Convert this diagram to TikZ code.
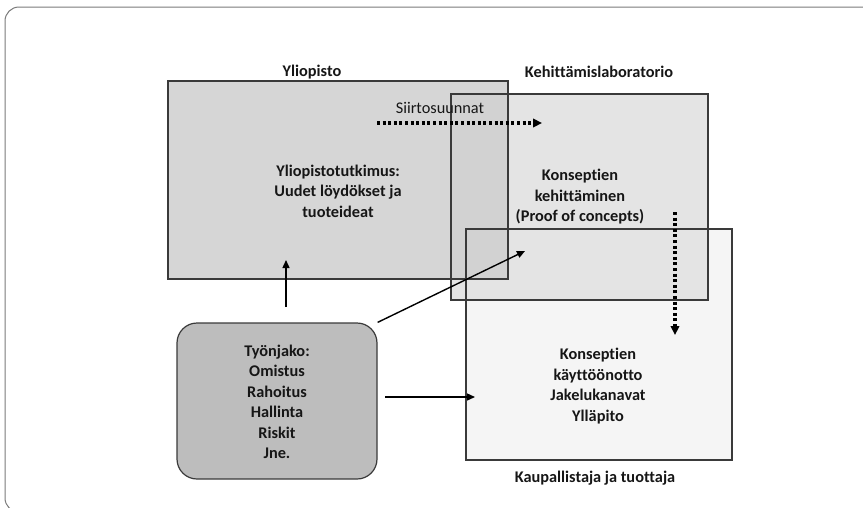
\documentclass[tikz,border=0pt]{standalone}
\usepackage{fontspec}
\setmainfont{Carlito}[Ligatures=NoCommon]
\usetikzlibrary{arrows.meta}

\definecolor{ink}{HTML}{161616}
\definecolor{edge}{HTML}{3A3A3A}
\definecolor{framegray}{HTML}{7A7A7A}
\definecolor{univfill}{HTML}{CFCFCF}
\definecolor{labfill}{HTML}{E4E4E4}
\definecolor{comfill}{HTML}{F5F5F5}
\definecolor{workfill}{HTML}{BDBDBD}

\tikzset{
  txt/.style={text=ink, align=center, inner sep=0pt,
    font=\fontsize{16.3}{20.5}\selectfont},
  heading/.style={txt, font=\fontsize{16.3}{20.5}\selectfont\bfseries},
  areafill/.style={rectangle, draw=none, inner sep=0pt, outer sep=0pt},
  areaedge/.style={draw=edge, line width=1.2pt},
  solidarrow/.style={draw=black, line width=1.4pt,
    -{Triangle[length=8pt,width=7pt]}},
  dotarrow/.style={draw=black, line width=3.2pt,
    dash pattern=on 3pt off 2.6pt,
    -{Triangle[length=9pt,width=8.5pt]}},
}

\begin{document}
\begin{tikzpicture}[x=1pt,y=-1pt]
\useasboundingbox (0,0) rectangle (863,507);

% outer rounded frame, running off the right and bottom edges
\begin{scope}
  \clip (0,0) rectangle (863,507);
  \draw[framegray, line width=1pt, rounded corners=14pt] (5,7) rectangle (900,512);
\end{scope}

% area fills, lightest first
\node[areafill, fill=comfill, minimum width=266pt, minimum height=231pt] (ka) at (599,344.5) {};
\node[areafill, fill=labfill, minimum width=257pt, minimum height=206pt] (ke) at (579.5,197) {};
\node[areafill, fill=univfill, fill opacity=0.85, minimum width=340pt, minimum height=198pt] (yl) at (338,180) {};

% area outlines on top of all fills
\draw[areaedge] (ka.north west) rectangle (ka.south east);
\draw[areaedge] (ke.north west) rectangle (ke.south east);
\draw[areaedge] (yl.north west) rectangle (yl.south east);

% division of work
\node[rectangle, rounded corners=20pt, draw=edge, line width=1.2pt, fill=workfill,
      minimum width=200pt, minimum height=156pt, inner sep=0pt] (ty) at (277,401) {};

% headings
\node[heading] (hyl) at (312,72) {Yliopisto};
\node[heading] (hke) at (599,72) {Kehittämislaboratorio};
\node[heading] (hka) at (595,478) {Kaupallistaja ja tuottaja};

% area contents
\node[heading] (tyl) at (338,191) {Yliopistotutkimus:\\Uudet löydökset ja\\tuoteideat};
\node[heading] (tke) at (580,197) {Konseptien\\kehittäminen\\(Proof of concepts)};
\node[heading] (tka) at (598,386) {Konseptien\\käyttöönotto\\Jakelukanavat\\Ylläpito};
\node[heading] (tty) at (277,402) {Työnjako:\\Omistus\\Rahoitus\\Hallinta\\Riskit\\Jne.};
\node[txt] (siirto) at (440,108) {Siirtosuunnat};

% connector end points
\coordinate (upfrom) at (286,307);
\coordinate (uptip) at (286,260);
\coordinate (diagtip) at (525,251);
\coordinate (rightfrom) at (385,397);
\coordinate (righttip) at (475,397);
\coordinate (dotfrom) at (377,123);
\coordinate (dottip) at (542,123);
\coordinate (downfrom) at (675,212);
\coordinate (downtip) at (675,335);

% connectors
\draw[solidarrow] (upfrom) -- (uptip);
\draw[solidarrow] (ty.north east) -- (diagtip);
\draw[solidarrow] (rightfrom) -- (righttip);
\draw[dotarrow] (dotfrom) -- (dottip);
\draw[dotarrow] (downfrom) -- (downtip);
\end{tikzpicture}
\end{document}
